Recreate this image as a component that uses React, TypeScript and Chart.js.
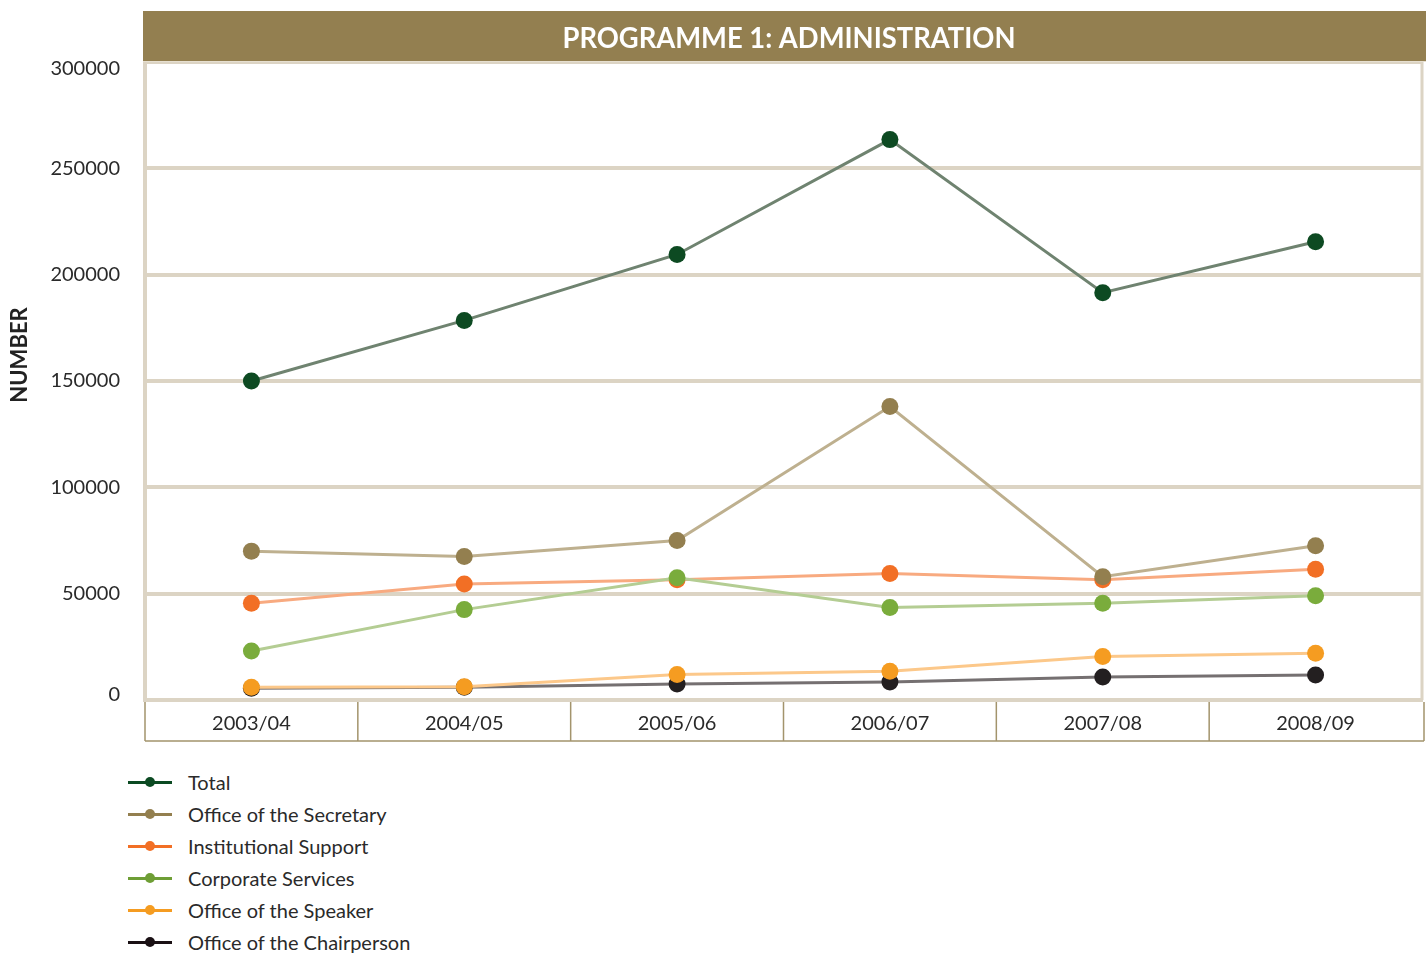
import React, { useEffect, useRef } from "react";
import { Chart, registerables } from "chart.js";

Chart.register(...registerables);

const categories = ["2003/04", "2004/05", "2005/06", "2006/07", "2007/08", "2008/09"];
const totalValues = [150000, 178500, 209500, 263500, 191500, 215500];
const secretaryValues = [70000, 67500, 75000, 138000, 58000, 72500];
const institutionalValues = [45500, 54500, 56500, 59500, 56500, 61500];
const corporateValues = [23000, 42500, 57500, 43500, 45500, 49000];
const speakerValues = [6000, 6200, 12000, 13500, 20500, 22000];
const chairpersonValues = [5500, 6000, 7500, 8500, 10800, 11800];
const yTicks = [0, 50000, 100000, 150000, 200000, 250000, 300000];

const chartTitle = "PROGRAMME 1: ADMINISTRATION";
const yTitle = "NUMBER";

const seriesDefs = [
  { label: "Total", data: totalValues, marker: "#0D4A22", line: "#6F8370", legend: "#0B4A22", order: 0 },
  { label: "Office of the Secretary", data: secretaryValues, marker: "#937F4F", line: "#BEB08F", legend: "#937F4F", order: 1 },
  { label: "Institutional Support", data: institutionalValues, marker: "#F26F25", line: "#F8AA80", legend: "#F26F25", order: 3 },
  { label: "Corporate Services", data: corporateValues, marker: "#7AAC3C", line: "#B4CD93", legend: "#6E9E35", order: 2 },
  { label: "Office of the Speaker", data: speakerValues, marker: "#F59C21", line: "#FCC88A", legend: "#F59C21", order: 4 },
  { label: "Office of the Chairperson", data: chairpersonValues, marker: "#231F20", line: "#757071", legend: "#1A1014", order: 5 },
];

const FONT = "Lato, 'Open Sans', sans-serif";
const BEIGE = "#DCD4C4";
const OLIVE = "#A3946C";

const decorPlugin = {
  id: "decor",
  beforeDatasetsDraw(chart: any) {
    const { ctx, chartArea } = chart;
    ctx.save();
    ctx.strokeStyle = BEIGE;
    ctx.lineWidth = 3;
    ctx.beginPath();
    ctx.moveTo(chartArea.right, chartArea.top);
    ctx.lineTo(chartArea.right, chartArea.bottom);
    ctx.stroke();
    ctx.restore();
  },
  afterDraw(chart: any) {
    const { ctx, chartArea } = chart;
    const yScale = chart.scales.y;
    ctx.save();
    // title bar
    ctx.fillStyle = "#937F50";
    ctx.fillRect(chartArea.left - 2, 11, chart.width - chartArea.left + 2, chartArea.top - 11);
    ctx.fillStyle = "#E6DFD0";
    ctx.fillRect(chartArea.left - 2, chartArea.top - 1, chart.width - chartArea.left + 2, 1);
    ctx.fillStyle = "#FFFFFF";
    ctx.font = "bold 29px " + FONT;
    ctx.textAlign = "center";
    ctx.textBaseline = "middle";
    const cx = 789;
    const w = ctx.measureText(chartTitle).width;
    const sx = 453 / w;
    ctx.translate(cx, 39);
    ctx.scale(sx, 1);
    ctx.fillText(chartTitle, 0, 0);
    ctx.restore();

    // y tick labels
    ctx.save();
    ctx.fillStyle = "#2A2A2A";
    ctx.font = "20px " + FONT;
    ctx.textAlign = "right";
    ctx.textBaseline = "middle";
    yTicks.forEach((v) => {
      let y = yScale.getPixelForValue(v);
      if (v === 300000) y += 7;
      if (v === 0) y -= 5;
      ctx.fillText(String(v), 120, y);
    });
    ctx.restore();

    // y axis title
    ctx.save();
    ctx.fillStyle = "#222222";
    ctx.font = "bold 22px " + FONT;
    ctx.textAlign = "center";
    ctx.textBaseline = "middle";
    ctx.translate(20, 355);
    ctx.rotate(-Math.PI / 2);
    ctx.fillText(yTitle, 0, 0);
    ctx.restore();

    // category boxes
    ctx.save();
    ctx.strokeStyle = OLIVE;
    ctx.lineWidth = 1.5;
    const n = categories.length;
    const step = (chartArea.right - chartArea.left) / n;
    const top = chartArea.bottom + 2;
    const bottom = chartArea.bottom + 41;
    ctx.beginPath();
    for (let i = 0; i <= n; i++) {
      let x = chartArea.left + step * i;
      if (i === n) x = chartArea.right + 2;
      ctx.moveTo(x, top);
      ctx.lineTo(x, bottom);
    }
    ctx.moveTo(chartArea.left, bottom);
    ctx.lineTo(chartArea.right + 2, bottom);
    ctx.stroke();
    ctx.restore();
  },
};

export default function App() {
  const canvasRef = useRef<HTMLCanvasElement | null>(null);

  useEffect(() => {
    const canvas = canvasRef.current;
    if (!canvas) return;
    const chart = new Chart(canvas, {
      type: "line",
      data: {
        labels: categories,
        datasets: seriesDefs.map((s) => ({
          label: s.label,
          data: s.data,
          borderColor: s.line,
          backgroundColor: s.marker,
          pointBackgroundColor: s.marker,
          pointBorderWidth: 0,
          pointRadius: 8.5,
          pointHoverRadius: 8.5,
          borderWidth: 3,
          tension: 0,
          order: s.order,
          fill: false,
        })),
      },
      options: {
        animation: false,
        responsive: false,
        maintainAspectRatio: false,
        layout: { autoPadding: false, padding: { top: 62, right: 4, left: 0, bottom: 0 } },
        plugins: {
          legend: { display: false },
          tooltip: { enabled: false },
          title: { display: false },
        },
        scales: {
          x: {
            offset: true,
            grid: { display: false },
            border: { display: true, color: BEIGE, width: 4 },
            ticks: {
              color: "#2A2A2A",
              font: { family: FONT, size: 20 },
              padding: 4,
              maxRotation: 0,
            },
            afterFit: (scale: any) => {
              scale.height = 50;
              scale.paddingRight = 0;
              scale.paddingLeft = 0;
            },
          },
          y: {
            min: 0,
            max: 300000,
            afterBuildTicks: (scale: any) => {
              scale.ticks = yTicks.map((v) => ({ value: v }));
            },
            grid: { color: BEIGE, lineWidth: 4, drawTicks: false },
            border: { display: true, color: BEIGE, width: 4 },
            ticks: { display: false },
            afterFit: (scale: any) => {
              scale.width = 145;
            },
          },
        },
      },
      plugins: [decorPlugin],
    });
    return () => chart.destroy();
  }, []);

  return (
    <div style={{ position: "absolute", left: 0, top: 0, width: 1426, height: 955, background: "#FFFFFF" }}>
      <canvas ref={canvasRef} width={1426} height={750} style={{ position: "absolute", left: 0, top: 0, width: 1426, height: 750 }} />
      {seriesDefs.map((s, i) => {
        const cy = 782 + i * 32;
        return (
          <div key={s.label}>
            <div style={{ position: "absolute", left: 128, top: cy - 1.5, width: 44, height: 3, background: s.legend }} />
            <div style={{ position: "absolute", left: 145, top: cy - 5, width: 10, height: 10, borderRadius: 5, background: s.legend }} />
            <div
              style={{
                position: "absolute",
                left: 188,
                top: cy - 13,
                height: 26,
                lineHeight: "26px",
                fontFamily: FONT,
                fontSize: 20,
                color: "#2A2A2A",
                whiteSpace: "nowrap",
              }}
            >
              {s.label}
            </div>
          </div>
        );
      })}
    </div>
  );
}
